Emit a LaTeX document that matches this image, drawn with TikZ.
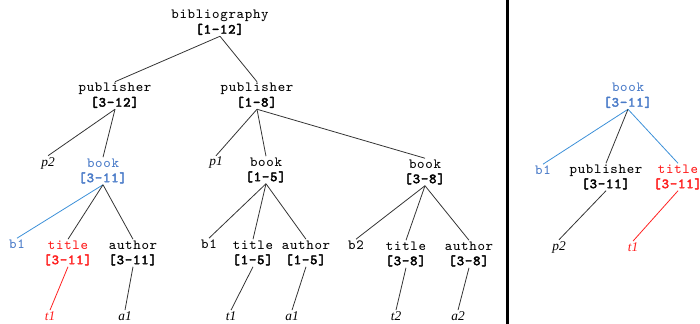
\documentclass[tikz,border=0pt]{standalone}
\usepackage{fontspec}
\setmainfont{Liberation Serif}
\setmonofont{Latin Modern Mono}[LetterSpace=5, AutoFakeBold=2.5]
\definecolor{hitblue}{RGB}{74,123,200}
\definecolor{hitline}{RGB}{58,143,216}
\definecolor{matchred}{RGB}{255,32,32}
\begin{document}
\begin{tikzpicture}[scale=0.2]
	\tikzstyle{every node}+=[inner sep=0.6pt]
	\tikzstyle{tag}=[font=\ttfamily\fontsize{8}{8.5}\selectfont, align=center]
	\tikzstyle{leaf}=[font=\itshape\fontsize{7.6}{8.5}\selectfont]
	\tikzstyle{edge}=[line width=0.45pt, black!80]
	\useasboundingbox (0,0) rectangle (70,-32.4);
	% left: the whole document tree
	\node [tag] (bib) at (22.0,-2.25) {bibliography\\\textbf{[1-12]}};
	\node [tag] (pubL) at (11.5,-9.55) {publisher\\\textbf{[3-12]}};
	\node [tag] (pubR) at (25.7,-9.55) {publisher\\\textbf{[1-8]}};
	\node [leaf] (p2L) at (4.8,-16.3) {p2};
	\node [tag, text=hitblue] (bookL) at (10.3,-17.1) {book\\\textbf{[3-11]}};
	\node [leaf] (p1) at (21.6,-16.3) {p1};
	\node [tag] (bookM) at (26.6,-17.0) {book\\\textbf{[1-5]}};
	\node [tag] (bookR) at (42.5,-17.2) {book\\\textbf{[3-8]}};
	\node [tag, text=hitblue] (b1L) at (1.7,-24.4) {b1};
	\node [tag, text=matchred] (titleL) at (6.8,-25.3) {title\\\textbf{[3-11]}};
	\node [tag] (authorL) at (13.3,-25.3) {author\\\textbf{[3-11]}};
	\node [tag] (b1M) at (20.9,-24.4) {b1};
	\node [tag] (titleM) at (25.3,-25.3) {title\\\textbf{[1-5]}};
	\node [tag] (authorM) at (30.6,-25.3) {author\\\textbf{[1-5]}};
	\node [tag] (b2) at (35.6,-24.5) {b2};
	\node [tag] (titleR) at (40.6,-25.4) {title\\\textbf{[3-8]}};
	\node [tag] (authorR) at (46.9,-25.4) {author\\\textbf{[3-8]}};
	\node [leaf, text=matchred] (t1L) at (5.0,-31.6) {t1};
	\node [leaf] (a1L) at (12.5,-31.6) {a1};
	\node [leaf] (t1M) at (23.1,-31.6) {t1};
	\node [leaf] (a1M) at (29.2,-31.6) {a1};
	\node [leaf] (t2) at (39.6,-31.6) {t2};
	\node [leaf] (a2) at (45.8,-31.6) {a2};
	\draw [edge] (bib.south) -- (pubL.north);
	\draw [edge] (bib.south) -- (pubR.north);
	\draw [edge] (pubL.south) -- (p2L.north);
	\draw [edge] (pubL.south) -- (bookL.north);
	\draw [edge] (pubR.south) -- (p1.north);
	\draw [edge] (pubR.south) -- (bookM.north);
	\draw [edge] (pubR.south) -- (bookR.north);
	\draw [edge, hitline] (bookL.south) -- (b1L.north);
	\draw [edge] (bookL.south) -- (titleL.north);
	\draw [edge] (bookL.south) -- (authorL.north);
	\draw [edge] (bookM.south) -- (b1M.north);
	\draw [edge] (bookM.south) -- (titleM.north);
	\draw [edge] (bookM.south) -- (authorM.north);
	\draw [edge] (bookR.south) -- (b2.north);
	\draw [edge] (bookR.south) -- (titleR.north);
	\draw [edge] (bookR.south) -- (authorR.north);
	\draw [edge, matchred] (titleL.south) -- (t1L.north);
	\draw [edge] (authorL.south) -- (a1L.north);
	\draw [edge] (titleM.south) -- (t1M.north);
	\draw [edge] (authorM.south) -- (a1M.north);
	\draw [edge] (titleR.south) -- (t2.north);
	\draw [edge] (authorR.south) -- (a2.north);
	% separator
	\draw [line width=1.7pt] (50.7,0) -- (50.7,-32.4);
	% right: the matched subtree
	\node [tag, text=hitblue] (bookX) at (62.8,-9.55) {book\\\textbf{[3-11]}};
	\node [tag, text=hitblue] (b1X) at (54.3,-17.0) {b1};
	\node [tag] (pubX) at (60.6,-17.7) {publisher\\\textbf{[3-11]}};
	\node [tag, text=matchred] (titleX) at (67.8,-17.7) {title\\\textbf{[3-11]}};
	\node [leaf] (p2X) at (55.9,-24.7) {p2};
	\node [leaf, text=matchred] (t1X) at (63.3,-24.7) {t1};
	\draw [edge, hitline] (bookX.south) -- (b1X.north);
	\draw [edge] (bookX.south) -- (pubX.north);
	\draw [edge, hitline] (bookX.south) -- (titleX.north);
	\draw [edge] (pubX.south) -- (p2X.north);
	\draw [edge, matchred] (titleX.south) -- (t1X.north);
\end{tikzpicture}
\end{document}
